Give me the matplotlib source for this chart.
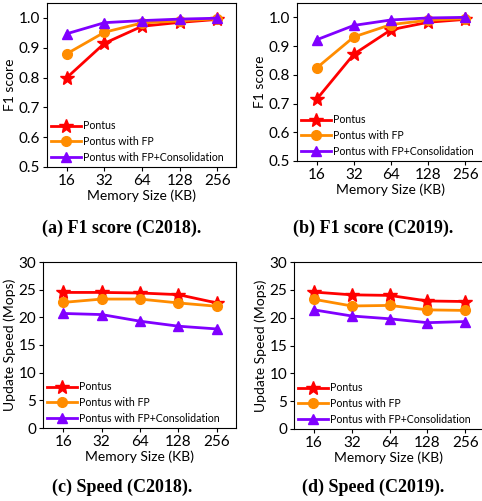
import matplotlib
matplotlib.use('Agg')
import matplotlib.pyplot as plt

plt.rcParams['font.family'] = ['Lato', 'DejaVu Sans']

memoria = ['16', '32', '64', '128', '256']
nomes = ['Pontus', 'Pontus with FP', 'Pontus with FP+Consolidation']
cores = ['#ff0000', '#ff8c00', '#8000ff']
marcadores = ['*', 'o', '^']

f1_c2018_pontus = [0.800, 0.915, 0.972, 0.985, 0.995]
f1_c2018_fp = [0.880, 0.952, 0.983, 0.990, 0.997]
f1_c2018_cons = [0.947, 0.984, 0.991, 0.996, 0.999]

f1_c2019_pontus = [0.715, 0.872, 0.957, 0.983, 0.993]
f1_c2019_fp = [0.824, 0.932, 0.975, 0.990, 0.996]
f1_c2019_cons = [0.922, 0.972, 0.991, 0.998, 1.000]

vel_c2018_pontus = [24.5, 24.5, 24.4, 24.1, 22.6]
vel_c2018_fp = [22.7, 23.3, 23.3, 22.6, 22.0]
vel_c2018_cons = [20.7, 20.5, 19.3, 18.4, 17.9]

vel_c2019_pontus = [24.6, 24.1, 24.0, 23.0, 22.9]
vel_c2019_fp = [23.3, 22.1, 22.2, 21.4, 21.3]
vel_c2019_cons = [21.4, 20.3, 19.8, 19.1, 19.3]

W, H = 482, 501


def caixa(x0, y0, x1, y1):
    # pixel coords (top-left origin) -> figure fraction
    return [x0 / W, 1 - y1 / H, (x1 - x0) / W, (y1 - y0) / H]


def painel(fig, ret, series, ylabel, ylim, yticks, yfmt, titulo, tx, ty):
    ax = fig.add_axes(caixa(*ret))
    x = list(range(len(memoria)))
    for valores, nome, cor, mk in zip(series, nomes, cores, marcadores):
        ms = 10 if mk == '*' else 7
        ax.plot(x, valores, color=cor, marker=mk, markersize=ms, linewidth=2, label=nome)
    ax.set_xlim(-0.53, 4.5)
    ax.set_ylim(*ylim)
    ax.set_xticks(x)
    ax.set_xticklabels(memoria, fontsize=11)
    ax.set_yticks(yticks)
    ax.set_yticklabels([yfmt.format(v) for v in yticks], fontsize=11)
    ax.tick_params(length=3, width=0.8, pad=2)
    ax.set_xlabel('Memory Size (KB)', fontsize=10, labelpad=1)
    ax.set_ylabel(ylabel, fontsize=10, labelpad=2)
    for s in ax.spines.values():
        s.set_linewidth(0.8)
    ax.legend(loc='lower left', frameon=False, fontsize=7.6, handlelength=2.8,
              handletextpad=0.2, labelspacing=0.45, borderaxespad=0.2,
              borderpad=0.2)
    fig.text(tx / W, 1 - ty / H, titulo, ha='center', va='center',
             fontsize=13, fontweight='bold', family='Liberation Serif')
    return ax


fig = plt.figure(figsize=(W / 100, H / 100), dpi=100)

painel(fig, (47, 3, 236, 167),
       [f1_c2018_pontus, f1_c2018_fp, f1_c2018_cons],
       'F1 score', (0.5, 1.05), [0.5, 0.6, 0.7, 0.8, 0.9, 1.0], '{:.1f}',
       '(a) F1 score (C2018).', 122, 228)
painel(fig, (297, 3, 484, 161),
       [f1_c2019_pontus, f1_c2019_fp, f1_c2019_cons],
       'F1 score', (0.5, 1.05), [0.5, 0.6, 0.7, 0.8, 0.9, 1.0], '{:.1f}',
       '(b) F1 score (C2019).', 373, 228)
painel(fig, (43, 262, 236, 428),
       [vel_c2018_pontus, vel_c2018_fp, vel_c2018_cons],
       'Update Speed (Mops)', (0, 30), [0, 5, 10, 15, 20, 25, 30], '{:d}',
       '(c) Speed (C2018).', 122, 487)
painel(fig, (294, 262, 484, 429),
       [vel_c2019_pontus, vel_c2019_fp, vel_c2019_cons],
       'Update Speed (Mops)', (0, 30), [0, 5, 10, 15, 20, 25, 30], '{:d}',
       '(d) Speed (C2019).', 373, 487)

fig.savefig('out.png', dpi=100)
